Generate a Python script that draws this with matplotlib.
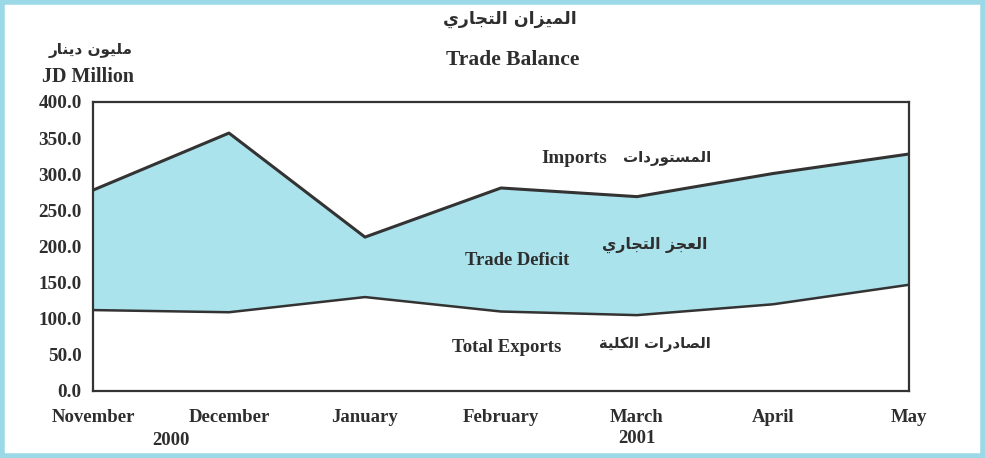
import matplotlib
matplotlib.use('Agg')
import matplotlib.pyplot as plt
from matplotlib.patches import Rectangle
import matplotlib.transforms as mtransforms

# Data (JD million)
months = ['November', 'December', 'January', 'February', 'March', 'April', 'May']
imports = [278, 357, 213, 281, 269, 301, 328]
exports = [112, 109, 130, 110, 105, 120, 147]
yticks = [0, 50, 100, 150, 200, 250, 300, 350, 400]

# minimal Arabic shaping: (isolated, final, initial, medial)
FORMS = {
    'ا': ('\uFE8D', '\uFE8E', None, None),
    'ب': ('\uFE8F', '\uFE90', '\uFE91', '\uFE92'),
    'ة': ('\uFE93', '\uFE94', None, None),
    'ت': ('\uFE95', '\uFE96', '\uFE97', '\uFE98'),
    'ج': ('\uFE9D', '\uFE9E', '\uFE9F', '\uFEA0'),
    'د': ('\uFEA9', '\uFEAA', None, None),
    'ر': ('\uFEAD', '\uFEAE', None, None),
    'ز': ('\uFEAF', '\uFEB0', None, None),
    'س': ('\uFEB1', '\uFEB2', '\uFEB3', '\uFEB4'),
    'ص': ('\uFEB9', '\uFEBA', '\uFEBB', '\uFEBC'),
    'ع': ('\uFEC9', '\uFECA', '\uFECB', '\uFECC'),
    'ك': ('\uFED9', '\uFEDA', '\uFEDB', '\uFEDC'),
    'ل': ('\uFEDD', '\uFEDE', '\uFEDF', '\uFEE0'),
    'م': ('\uFEE1', '\uFEE2', '\uFEE3', '\uFEE4'),
    'ن': ('\uFEE5', '\uFEE6', '\uFEE7', '\uFEE8'),
    'و': ('\uFEED', '\uFEEE', None, None),
    'ي': ('\uFEF1', '\uFEF2', '\uFEF3', '\uFEF4'),
}


def shape(text):
    out = []
    for i, c in enumerate(text):
        if c not in FORMS:
            out.append(c)
            continue
        prev = text[i - 1] if i > 0 else ''
        nxt = text[i + 1] if i + 1 < len(text) else ''
        jp = prev in FORMS and FORMS[prev][2] is not None
        jn = nxt in FORMS and FORMS[c][2] is not None
        iso, fin, ini, med = FORMS[c]
        if jp and jn:
            out.append(med)
        elif jp:
            out.append(fin)
        elif jn:
            out.append(ini)
        else:
            out.append(iso)
    return ''.join(out)[::-1]


SERIF = dict(family='Liberation Serif', fontweight='bold', color='#2e2e2e')
ARAB = dict(family='DejaVu Sans', fontweight='bold', color='#2e2e2e')

fig = plt.figure(figsize=(9.85, 4.58), dpi=100)
fig.patch.set_facecolor('white')
ax = fig.add_axes([0.0944, 0.1463, 0.8284, 0.631])

x = list(range(len(months)))
ax.fill_between(x, exports, imports, color='#abe3ed', linewidth=0)
ax.plot(x, imports, color='#333333', lw=2.2)
ax.plot(x, exports, color='#333333', lw=1.8)

ax.set_xlim(0, 6)
ax.set_ylim(0, 400)
ax.set_yticks(yticks)
ax.set_yticklabels([f'{v:.1f}' for v in yticks], **SERIF, fontsize=13.8)
ax.set_xticks(x)
ax.set_xticklabels(months, **SERIF, fontsize=13.5)
ax.tick_params(axis='both', length=0)
ax.tick_params(axis='y', pad=8)
ax.tick_params(axis='x', pad=13)
for s in ax.spines.values():
    s.set_linewidth(1.6)
    s.set_color('#333333')

# years under the month labels
tr = mtransforms.blended_transform_factory(ax.transData, ax.transAxes)
ax.text(0.57, -0.17, '2000', transform=tr, ha='center', va='center', fontsize=13.5, **SERIF)
ax.text(4.0, -0.165, '2001', transform=tr, ha='center', va='center', fontsize=13.5, **SERIF)

# labels inside the plot
ax.text(3.54, 322, 'Imports', ha='center', va='center', fontsize=13.7, **SERIF)
ax.text(4.22, 322, shape('المستوردات'), ha='center', va='center', fontsize=10.8, **ARAB)
ax.text(3.12, 181, 'Trade Deficit', ha='center', va='center', fontsize=13.4, **SERIF)
ax.text(4.13, 202, shape('العجز التجاري'), ha='center', va='center', fontsize=11.3, **ARAB)
ax.text(3.04, 60, 'Total Exports', ha='center', va='center', fontsize=13.5, **SERIF)
ax.text(4.13, 64, shape('الصادرات الكلية'), ha='center', va='center', fontsize=10.6, **ARAB)

# titles
fig.text(510 / 985, 1 - 19 / 458, shape('الميزان التجاري'), ha='center', va='center', fontsize=12.5, **ARAB)
fig.text(513 / 985, 1 - 60 / 458, 'Trade Balance', ha='center', va='center', fontsize=15.5, **SERIF)
fig.text(91 / 985, 1 - 50 / 458, shape('مليون دينار'), ha='center', va='center', fontsize=11, **ARAB)
fig.text(88 / 985, 1 - 77 / 458, 'JD Million', ha='center', va='center', fontsize=14.4, **SERIF)

# light blue frame around the figure
fig.patches.append(Rectangle((0.002, 0.004), 0.996, 0.992, transform=fig.transFigure,
                             fill=False, edgecolor='#9cd9e6', linewidth=4))

fig.savefig('out.png', dpi=100)
